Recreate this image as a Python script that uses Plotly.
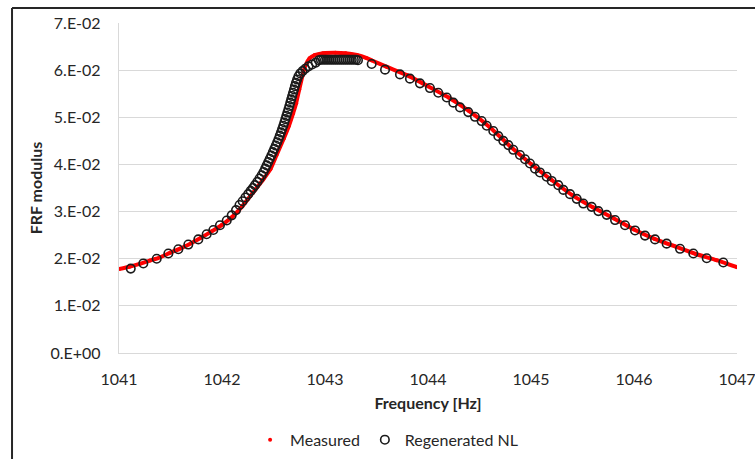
import plotly.graph_objects as go

# ---------------- data ----------------
meas_freq = [1041.00, 1041.10, 1041.20, 1041.30, 1041.40, 1041.50, 1041.60, 1041.70, 1041.80, 1041.90,
             1042.00, 1042.10, 1042.20, 1042.30, 1042.40, 1042.47, 1042.53, 1042.60, 1042.65, 1042.69,
             1042.72, 1042.75, 1042.78, 1042.81, 1042.85, 1042.90, 1042.98, 1043.10, 1043.20, 1043.31,
             1043.40, 1043.45, 1043.60, 1043.80, 1044.00, 1044.20, 1044.40, 1044.60, 1044.80, 1045.00,
             1045.20, 1045.40, 1045.60, 1045.80, 1046.00, 1046.20, 1046.40, 1046.60, 1046.80, 1047.00]
meas_val = [0.0178, 0.0183, 0.0189, 0.0196, 0.0203, 0.0213, 0.0222, 0.0233, 0.0245, 0.0258,
            0.0272, 0.0289, 0.0312, 0.0340, 0.0368, 0.0390, 0.0420, 0.0455, 0.0482, 0.0508,
            0.0530, 0.0559, 0.0587, 0.0610, 0.0625, 0.0632, 0.0636, 0.0637, 0.0636, 0.0632,
            0.0626, 0.0621, 0.0607, 0.0589, 0.0566, 0.0542, 0.0513, 0.0479, 0.0438, 0.0401,
            0.0367, 0.0335, 0.0309, 0.0286, 0.0262, 0.0242, 0.0226, 0.0210, 0.0197, 0.0182]

regen_freq = [1041.114, 1041.236, 1041.366, 1041.479, 1041.576, 1041.673, 1041.770, 1041.851, 1041.916, 1041.980,
              1042.046, 1042.094, 1042.136, 1042.170, 1042.200, 1042.228, 1042.254, 1042.278, 1042.300, 1042.320,
              1042.343, 1042.364, 1042.385, 1042.403, 1042.419, 1042.434, 1042.449, 1042.464, 1042.479, 1042.494,
              1042.508, 1042.522, 1042.536, 1042.549, 1042.561, 1042.573, 1042.584, 1042.595, 1042.605, 1042.615,
              1042.625, 1042.635, 1042.645, 1042.654, 1042.663, 1042.672, 1042.681, 1042.690, 1042.699, 1042.708,
              1042.718, 1042.729, 1042.742, 1042.760, 1042.782, 1042.808, 1042.840, 1042.875, 1042.910,
              1042.940, 1042.960, 1042.980, 1043.000, 1043.020, 1043.040, 1043.060, 1043.080, 1043.100, 1043.120,
              1043.140, 1043.160, 1043.180, 1043.200, 1043.220, 1043.240, 1043.260, 1043.280, 1043.300, 1043.320,
              1043.453, 1043.583, 1043.728, 1043.825, 1043.922, 1044.019, 1044.100, 1044.182, 1044.246, 1044.311,
              1044.391, 1044.456, 1044.521, 1044.570, 1044.634, 1044.683, 1044.731, 1044.780, 1044.828, 1044.893,
              1044.942, 1044.990, 1045.039, 1045.087, 1045.152, 1045.201, 1045.265, 1045.314, 1045.379, 1045.444,
              1045.508, 1045.589, 1045.654, 1045.735, 1045.816, 1045.913, 1046.010, 1046.107, 1046.204, 1046.317,
              1046.447, 1046.576, 1046.706, 1046.867]
regen_val = [0.0179, 0.0190, 0.0200, 0.0211, 0.0220, 0.0230, 0.0241, 0.0252, 0.0261, 0.0271,
             0.0281, 0.0292, 0.0303, 0.0314, 0.0322, 0.0330, 0.0337, 0.0344, 0.0350, 0.0356,
             0.0363, 0.0370, 0.0377, 0.0384, 0.0391, 0.0398, 0.0405, 0.0412, 0.0419, 0.0426,
             0.0433, 0.0440, 0.0447, 0.0454, 0.0461, 0.0468, 0.0475, 0.0482, 0.0489, 0.0496,
             0.0503, 0.0510, 0.0517, 0.0524, 0.0531, 0.0538, 0.0545, 0.0552, 0.0559, 0.0566,
             0.0573, 0.0580, 0.0587, 0.0593, 0.0598, 0.0603, 0.0608, 0.0612, 0.0616,
             0.0621, 0.0622, 0.0622, 0.0622, 0.0622, 0.0622, 0.0622, 0.0622, 0.0622, 0.0622,
             0.0622, 0.0622, 0.0622, 0.0622, 0.0622, 0.0622, 0.0622, 0.0622, 0.0622, 0.0621,
             0.0613, 0.0601, 0.0591, 0.0582, 0.0572, 0.0562, 0.0552, 0.0542, 0.0531, 0.0521,
             0.0511, 0.0501, 0.0492, 0.0482, 0.0471, 0.0460, 0.0450, 0.0441, 0.0431, 0.0420,
             0.0411, 0.0402, 0.0391, 0.0383, 0.0374, 0.0365, 0.0356, 0.0346, 0.0337, 0.0327,
             0.0317, 0.0310, 0.0301, 0.0293, 0.0282, 0.0271, 0.0260, 0.0249, 0.0241, 0.0232,
             0.0221, 0.0211, 0.0201, 0.0192]

y_tickvals = [0.00, 0.01, 0.02, 0.03, 0.04, 0.05, 0.06, 0.07]
y_ticktext = ["0.E+00", "1.E-02", "2.E-02", "3.E-02", "4.E-02", "5.E-02", "6.E-02", "7.E-02"]
x_tickvals = [1041, 1042, 1043, 1044, 1045, 1046, 1047]

# ---------------- figure ----------------
FONT = "Lato"
TXT = "#262626"
GRID = "#d9d9d9"
FRAME = "#262626"

fig = go.Figure()

# measured: dense red dots drawn as a thick line
fig.add_trace(go.Scatter(
    x=meas_freq, y=meas_val, mode="lines",
    line=dict(color="#ff0000", width=4, shape="spline", smoothing=0.5),
    showlegend=False, hoverinfo="skip", legendgroup="m"))
fig.add_trace(go.Scatter(
    x=meas_freq, y=meas_val, mode="markers", name="Measured",
    marker=dict(color="#ff0000", size=4), legendgroup="m"))

fig.add_trace(go.Scatter(
    x=regen_freq, y=regen_val, mode="markers", name="Regenerated NL",
    marker=dict(symbol="circle-open", size=8.5, color="#1a1a1a",
                line=dict(color="#1a1a1a", width=1.6))))

fig.update_layout(
    width=755, height=459,
    margin=dict(l=119, r=18, t=23, b=106, autoexpand=False),
    paper_bgcolor="white", plot_bgcolor="white",
    font=dict(family=FONT, size=16, color=TXT),
    showlegend=True,
    legend=dict(orientation="h", x=0.433, xanchor="center", y=-0.263, yanchor="middle",
                font=dict(family=FONT, size=16, color=TXT), bgcolor="rgba(0,0,0,0)",
                itemsizing="trace"),
    shapes=[
        # left edge of chart frame
        dict(type="line", xref="paper", yref="paper", x0=-0.1731, x1=-0.1731, y0=-0.5, y1=1.0454,
             line=dict(color=FRAME, width=2), layer="below"),
        # top edge of chart frame
        dict(type="line", xref="paper", yref="paper", x0=-0.1731, x1=1.5, y0=1.0454, y1=1.0454,
             line=dict(color=FRAME, width=2), layer="below"),
    ],
)

fig.update_xaxes(
    range=[1041, 1047], tickvals=x_tickvals, showgrid=False, zeroline=False,
    showline=True, linecolor=GRID, linewidth=1.3, ticks="", ticklabelstandoff=12,
    ticklabeloverflow="allow", automargin=False,
    tickfont=dict(family=FONT, size=16, color=TXT),
    title=dict(text="Frequency [Hz]", font=dict(family=FONT, size=16, color=TXT, weight="bold"),
               standoff=10),
)
fig.update_yaxes(
    range=[0, 0.07], tickvals=y_tickvals, ticktext=y_ticktext,
    showgrid=True, gridcolor=GRID, gridwidth=1.3, zeroline=False,
    showline=True, linecolor=GRID, linewidth=1.3, ticks="", ticklabelstandoff=14,
    automargin=False,
    tickfont=dict(family=FONT, size=16, color=TXT),
    title=dict(text="FRF modulus", font=dict(family=FONT, size=16, color=TXT, weight="bold"),
               standoff=3),
)

fig.write_html("out.html")
